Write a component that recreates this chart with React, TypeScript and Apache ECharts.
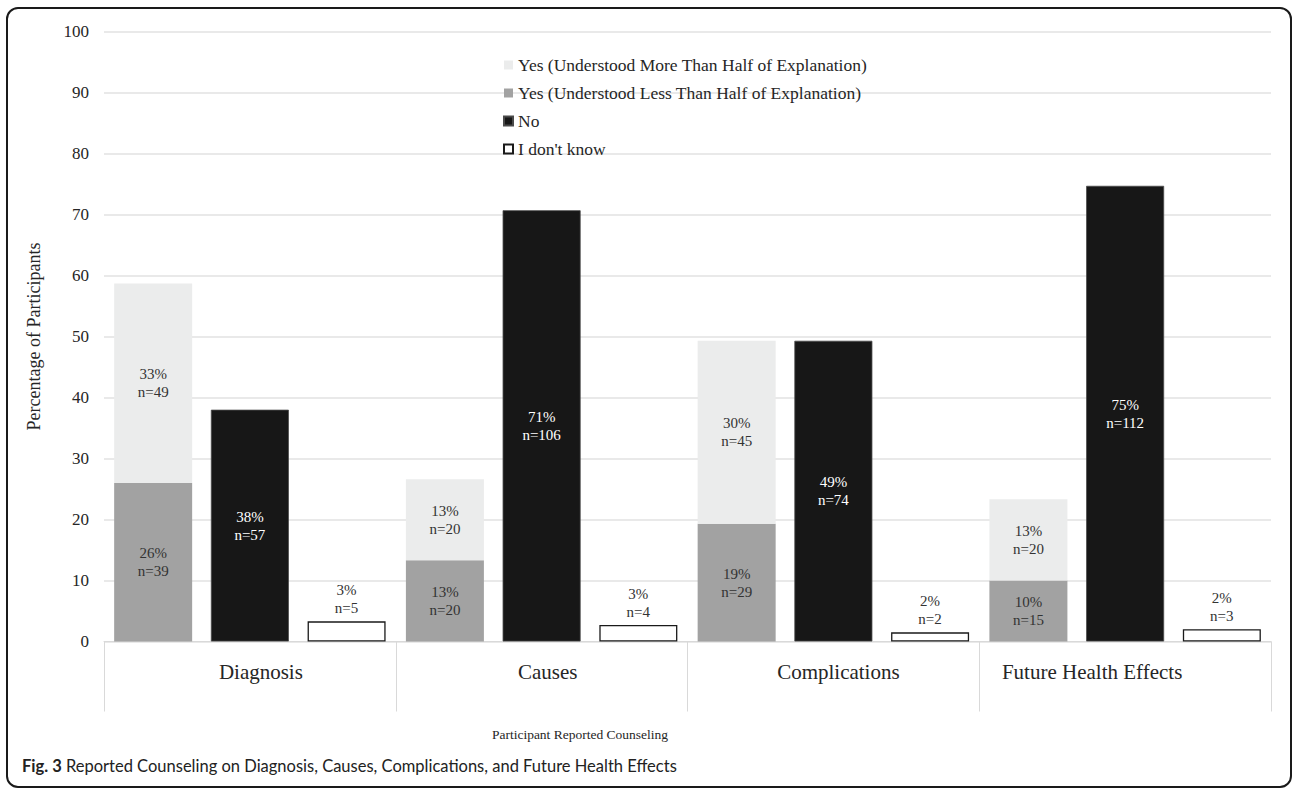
import React, { useEffect, useRef } from "react";
import * as echarts from "echarts";

// Counseling topics on the category axis
const topics = ["Diagnosis", "Causes", "Complications", "Future Health Effects"];

// Percentage of participants per response, one value per topic
const yesLessHalf = [26.0, 13.3, 19.3, 10.0];
const yesMoreHalf = [32.7, 13.3, 30.0, 13.3];
const noCounsel = [38.0, 70.7, 49.3, 74.7];
const dontKnow = [3.3, 2.7, 1.5, 2.0];

// Participant counts behind each percentage
const nLessHalf = [39, 20, 29, 15];
const nMoreHalf = [49, 20, 45, 20];
const nNo = [57, 106, 74, 112];
const nDontKnow = [5, 4, 2, 3];

// Value-axis ticks
const yTicks = { min: 0, max: 100, interval: 10 };

const seriesNames = [
  "Yes (Understood More Than Half of Explanation)",
  "Yes (Understood Less Than Half of Explanation)",
  "No",
  "I don't know",
];

const SERIF = "'Liberation Serif', 'Times New Roman', serif";
const SANS = "Lato, 'Noto Sans', sans-serif";
const TEXT = "#262626";

const labelFor = (counts: number[]) => (p: any) =>
  `${Math.round(p.value)}%\nn=${counts[p.dataIndex]}`;

// Small horizontal nudges of the topic labels under the axis
const topicLabelStyles: Record<string, any> = {
  t0: { padding: [0, 0, 0, 22] },
  t1: { padding: [0, 0, 0, 12] },
  t2: { padding: [0, 0, 0, 10] },
  t3: { padding: [0, 66, 0, 0] },
};

export default function App() {
  const ref = useRef<HTMLDivElement>(null);

  useEffect(() => {
    if (!ref.current) return;
    const chart = echarts.init(ref.current, null, { renderer: "svg" });

    const barBase = {
      type: "bar" as const,
      barWidth: 78,
      barGap: "24%",
    };

    const insideLabel = (counts: number[], color: string) => ({
      show: true,
      position: "inside" as const,
      formatter: labelFor(counts),
      color,
      fontFamily: SERIF,
      fontSize: 15,
      lineHeight: 18,
    });

    const option: any = {
      animation: false,
      backgroundColor: "#ffffff",
      grid: { left: 104, right: 21, top: 31.5, bottom: 147.5, containLabel: false },
      legend: {
        orient: "vertical",
        left: 498,
        top: 51,
        itemWidth: 9,
        itemHeight: 9,
        itemGap: 10,
        icon: "rect",
        data: seriesNames,
        textStyle: { fontFamily: SERIF, fontSize: 17.5, color: TEXT },
      },
      xAxis: {
        type: "category",
        data: topics,
        axisLine: { show: true, lineStyle: { color: "#d9d9d9", width: 1 } },
        axisTick: { show: true, length: 70, lineStyle: { color: "#d9d9d9", width: 1 } },
        axisLabel: {
          margin: 20,
          fontFamily: SERIF,
          fontSize: 21,
          color: TEXT,
          formatter: (v: string) => `{t${topics.indexOf(v)}|${v}}`,
          rich: Object.fromEntries(
            Object.entries(topicLabelStyles).map(([k, s]) => [
              k,
              { ...s, fontFamily: SERIF, fontSize: 21, color: TEXT },
            ])
          ),
        },
        splitLine: { show: false },
      },
      yAxis: {
        type: "value",
        min: yTicks.min,
        max: yTicks.max,
        interval: yTicks.interval,
        name: "Percentage of Participants",
        nameLocation: "middle",
        nameGap: 61,
        nameTextStyle: { fontFamily: SERIF, fontSize: 18, color: TEXT },
        axisLine: { show: false },
        axisTick: { show: false },
        axisLabel: { margin: 15, fontFamily: SERIF, fontSize: 17, color: TEXT },
        splitLine: { lineStyle: { color: "#e2e2e2", width: 1.5 } },
      },
      series: [
        {
          ...barBase,
          name: seriesNames[1],
          stack: "yes",
          data: yesLessHalf,
          itemStyle: { color: "#a2a2a2" },
          label: insideLabel(nLessHalf, "#333333"),
        },
        {
          ...barBase,
          name: seriesNames[0],
          stack: "yes",
          data: yesMoreHalf,
          itemStyle: { color: "#ebecec" },
          label: insideLabel(nMoreHalf, "#333333"),
        },
        {
          ...barBase,
          name: seriesNames[2],
          data: noCounsel,
          itemStyle: { color: "#171717", borderColor: "#4a4a4a", borderWidth: 0.8 },
          label: insideLabel(nNo, "#ffffff"),
        },
        {
          ...barBase,
          name: seriesNames[3],
          data: dontKnow,
          itemStyle: { color: "#ffffff", borderColor: "#1a1a1a", borderWidth: 1.3 },
          label: {
            show: true,
            position: "top",
            distance: 4,
            formatter: labelFor(nDontKnow),
            color: "#333333",
            fontFamily: SERIF,
            fontSize: 15,
            lineHeight: 18,
          },
        },
      ],
      graphic: [
        {
          type: "rect",
          z: -1,
          shape: { x: 7, y: 8, width: 1284, height: 779, r: 11 },
          style: { fill: "none", stroke: "#1a1a1a", lineWidth: 2 },
          silent: true,
        },
        {
          type: "text",
          x: 580,
          y: 734,
          style: {
            text: "Participant Reported Counseling",
            fontFamily: SERIF,
            fontSize: 13.5,
            fill: TEXT,
            textAlign: "center",
            textVerticalAlign: "middle",
          },
          silent: true,
        },
        {
          type: "text",
          x: 22,
          y: 766,
          style: {
            text: "{b|Fig. 3} Reported Counseling on Diagnosis, Causes, Complications, and Future Health Effects",
            fontFamily: SANS,
            fontSize: 16.5,
            fill: "#222222",
            textVerticalAlign: "middle",
            rich: {
              b: {
                fontFamily: SANS,
                fontWeight: "bold",
                fontSize: 16.5,
                fill: "#222222",
              },
            },
          },
          silent: true,
        },
      ],
    };

    chart.setOption(option);
    return () => chart.dispose();
  }, []);

  return (
    <div
      ref={ref}
      style={{ position: "absolute", left: 0, top: 0, width: 1292, height: 789 }}
    />
  );
}
